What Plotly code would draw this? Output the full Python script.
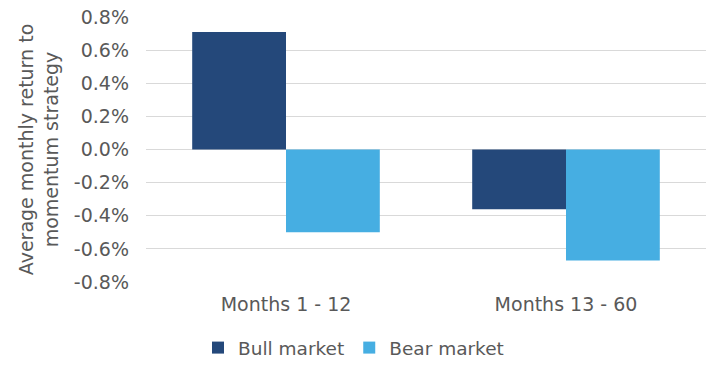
import plotly.graph_objects as go

categories = ["Months 1 - 12", "Months 13 - 60"]
bull_values = [0.0071, -0.0036]
bear_values = [-0.0050, -0.0067]
series_names = ["Bull market", "Bear market"]
y_ticks = [-0.008, -0.006, -0.004, -0.002, 0.0, 0.002, 0.004, 0.006, 0.008]
y_tick_labels = ["-0.8%", "-0.6%", "-0.4%", "-0.2%", "0.0%", "0.2%", "0.4%", "0.6%", "0.8%"]

font = "DejaVu Sans, Verdana, sans-serif"
fs = 19
txt = "#595959"

fig = go.Figure()
fig.add_trace(go.Bar(x=categories, y=bull_values, name=series_names[0],
                     marker=dict(color="#24487A", line=dict(width=0))))
fig.add_trace(go.Bar(x=categories, y=bear_values, name=series_names[1],
                     marker=dict(color="#46AEE2", line=dict(width=0))))

fig.update_layout(
    width=725, height=366,
    margin=dict(l=146, r=19, t=17, b=84, autoexpand=False),
    paper_bgcolor="white", plot_bgcolor="white",
    barmode="group", bargap=0.33, bargroupgap=0,
    hovermode=False,
    font=dict(family=font, size=fs, color=txt),
    showlegend=True,
    legend=dict(orientation="h", x=0.4876, xref="container", xanchor="center",
                y=0.049, yref="container", yanchor="middle",
                font=dict(family=font, size=18.5, color=txt),
                itemwidth=30, traceorder="normal"),
    xaxis=dict(showgrid=False, showline=False, ticks="", tickfont=dict(size=fs),
               ticklabelstandoff=9),
    yaxis=dict(range=[-0.008, 0.008], tickvals=y_ticks, ticktext=y_tick_labels,
               showgrid=True, gridcolor="#D9D9D9", gridwidth=1,
               zeroline=True, zerolinecolor="#D9D9D9", zerolinewidth=1,
               showline=False, ticks="", tickfont=dict(size=fs),
               ticklabelstandoff=16,
               title=dict(text="Average monthly return to<br>momentum strategy",
                          font=dict(size=fs), standoff=10)),
)

fig.write_html("out.html", config={"displayModeBar": False, "staticPlot": True},
               post_script="document.body.style.margin='0';")
